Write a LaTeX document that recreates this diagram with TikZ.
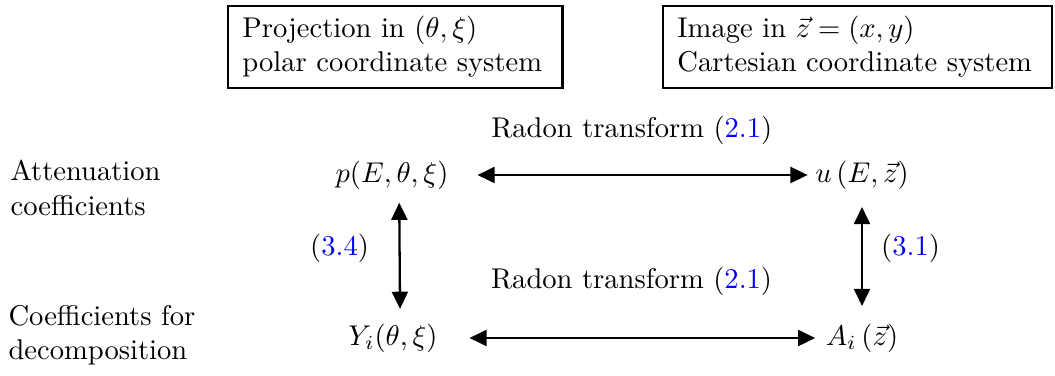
\documentclass[tikz,border=0pt]{standalone}
\usetikzlibrary{arrows.meta}
\begin{document}
\begin{tikzpicture}[
    x=.35pt, y=-.35pt,
    every node/.style={font=\normalsize},
    infobox/.style={draw,thick,align=left,anchor=north west,inner xsep=5pt,inner ysep=3.5pt},
    rowlabel/.style={align=left,anchor=west,inner sep=0pt},
    quantity/.style={inner sep=0pt},
    dbl/.style={{Triangle[length=6pt,width=5.6pt]}-{Triangle[length=6pt,width=5.6pt]},thick}]
    \useasboundingbox (0,0) rectangle (1055,376);
    \node[infobox,text width=107pt] (polar) at (227,5)
        {Projection in $(\theta,\xi)$\\polar coordinate system};
    \node[infobox,text width=126pt] (cart) at (662,5)
        {Image in $\vec z=(x,y)$\\Cartesian coordinate system};
    \node[rowlabel] (att) at (10,188) {Attenuation\\coefficients};
    \node[rowlabel] (dec) at (8,335) {Coefficients for\\decomposition};
    \node[quantity] (p) at (392,175) {$p(E,\theta,\xi)$};
    \node[quantity] (u) at (862,175) {$u\left(E,\vec z\right)$};
    \node[quantity] (Y) at (393,338) {$Y_i(\theta,\xi)$};
    \node[quantity] (A) at (862,338) {$A_i\left(\vec z\right)$};
    \draw[dbl,shorten <=10pt,shorten >=2.5pt] (p) -- (u)
        node[midway,above=7pt] (radtop) {Radon transform (\textcolor{blue}{2.1})};
    \draw[dbl,shorten <=11pt,shorten >=3.5pt] (Y) -- (A)
        node[midway,above=11pt] (radbot) {Radon transform (\textcolor{blue}{2.1})};
    \draw[dbl,shorten <=4.5pt,shorten >=5pt] ([xshift=2.5pt]p.south) -- ([xshift=2.5pt]Y.north)
        node[pos=.44,left=7pt] (leftref) {(\textcolor{blue}{3.4})};
    \draw[dbl,shorten <=6pt,shorten >=6pt] (u.south) -- (A.north)
        node[pos=.44,right=3pt] (rightref) {(\textcolor{blue}{3.1})};
\end{tikzpicture}
\end{document}
